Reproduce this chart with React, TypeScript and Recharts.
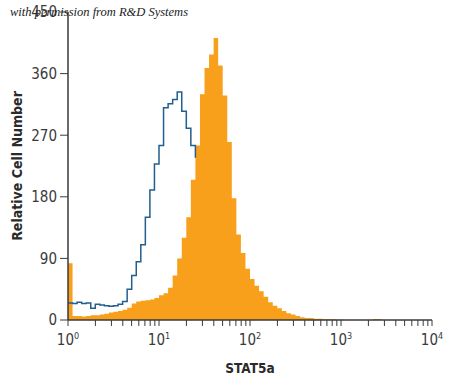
import React from "react";
import { ComposedChart, Area, Line, XAxis, YAxis } from "recharts";

// histogram bins are 0.05 decade wide, starting at 10^0
const BIN_DECADES = 0.05;

// STAT5a stained cells (filled orange)
const stainedCounts = [
  83, 6, 6, 5, 6, 7, 7, 8, 9, 11,
  12, 13, 15, 18, 24, 27, 28, 29, 30, 32,
  36, 39, 47, 65, 90, 120, 150, 205, 255, 330,
  368, 388, 412, 372, 328, 260, 178, 125, 98, 75,
  60, 50, 42, 34, 26, 21, 17, 13, 10, 8,
  6, 4, 3, 3, 2, 2, 1, 1, 1, 0.5,
  0.5, 0, 0, 0, 0, 0, 0, 1.5, 1, 0,
  0, 0, 0, 0, 0, 0, 0, 0, 0, 0, 0,
];

// isotype control (open blue outline); it disappears behind the orange peak
const controlCounts = [
  25, 24, 26, 24, 25, 17, 23, 22, 21, 20,
  21, 23, 27, 45, 65, 85, 110, 150, 190, 228,
  255, 310, 316, 322, 333, 305, 280, 255, 237,
];

const yTicks = [0, 90, 180, 270, 360, 450];
const decades = [1, 10, 100, 1000, 10000];
const xTicks = [
  1, 2, 3, 4, 5, 6, 7, 8, 9,
  10, 20, 30, 40, 50, 60, 70, 80, 90,
  100, 200, 300, 400, 500, 600, 700, 800, 900,
  1000, 2000, 3000, 4000, 5000, 6000, 7000, 8000, 9000,
  10000,
];

const ORANGE = "#F8A01C";
const BLUE = "#225E8E";
const AXIS = "#3a3a3a";
const FONT = "'DejaVu Sans Condensed', 'Liberation Sans Narrow', sans-serif";

const rows = stainedCounts.map((v, i) => ({
  x: Math.pow(10, i * BIN_DECADES),
  stained: v,
  control: i < controlCounts.length ? controlCounts[i] : undefined,
}));

const LogTick = (props: any) => {
  const { x, y, payload } = props;
  const idx = decades.indexOf(payload.value);
  if (idx < 0) return <g />;
  return (
    <text x={x} y={y + 17} textAnchor="middle" fill={AXIS} fontFamily={FONT} fontSize={15}>
      <tspan>10</tspan>
      <tspan dy={-6} fontSize={9}>
        {idx}
      </tspan>
    </text>
  );
};

export default function App() {
  return (
    <div style={{ position: "absolute", left: 0, top: 0, width: 450, height: 382, background: "#fff" }}>
      <ComposedChart
        width={450}
        height={382}
        data={rows}
        margin={{ top: 12, right: 18, left: 0, bottom: 0 }}
      >
        <XAxis
          dataKey="x"
          type="number"
          scale="log"
          domain={[1, 10000]}
          ticks={xTicks}
          interval={0}
          allowDataOverflow
          height={62}
          tick={<LogTick />}
          tickSize={6}
          axisLine={{ stroke: AXIS, strokeWidth: 1.5 }}
          tickLine={{ stroke: AXIS, strokeWidth: 1 }}
          label={{
            value: "STAT5a",
            position: "insideBottom",
            offset: 9,
            style: { fontFamily: FONT, fontSize: 13.5, fontWeight: 700, fill: "#2a2a2a" },
          }}
        />
        <YAxis
          type="number"
          domain={[0, 450]}
          ticks={yTicks}
          interval={0}
          width={68}
          tickSize={8}
          tickMargin={3}
          axisLine={{ stroke: AXIS, strokeWidth: 1.5 }}
          tickLine={{ stroke: AXIS, strokeWidth: 1 }}
          tick={{ fontFamily: FONT, fontSize: 15, fill: AXIS }}
          label={{
            value: "Relative Cell Number",
            angle: -90,
            position: "insideLeft",
            offset: 17,
            style: { textAnchor: "middle", fontFamily: FONT, fontSize: 14, fontWeight: 700, fill: "#2a2a2a" },
          }}
        />
        <Line
          type="stepAfter"
          dataKey="control"
          stroke={BLUE}
          strokeWidth={1.5}
          dot={false}
          activeDot={false}
          connectNulls={false}
          isAnimationActive={false}
        />
        <Area
          type="stepAfter"
          dataKey="stained"
          fill={ORANGE}
          fillOpacity={1}
          stroke="none"
          isAnimationActive={false}
        />
      </ComposedChart>
      <div
        style={{
          position: "absolute",
          left: 10,
          top: 5,
          fontFamily: "'Liberation Serif', serif",
          fontStyle: "italic",
          fontSize: 12.5,
          color: "#222",
          whiteSpace: "nowrap",
        }}
      >
        with permission from R&amp;D Systems
      </div>
    </div>
  );
}
